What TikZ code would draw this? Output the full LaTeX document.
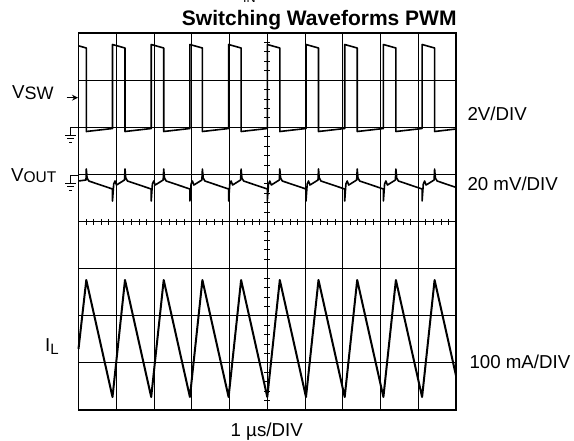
\documentclass[tikz,border=0pt]{standalone}
\usepackage{fontspec}
\setmainfont{Liberation Sans}
\usetikzlibrary{arrows.meta}

\newcommand{\lblfont}{\fontsize{18.7}{18.7}\selectfont}
\newcommand{\lowsub}[3]{\raisebox{-#1}{\fontsize{#2}{#2}\selectfont #3}}

\tikzset{
  txt/.style={inner sep=0pt, anchor=base west, font=\lblfont},
  wave/.style={line width=1.6pt, line join=round},
  gnd/.pic={
    \path[draw,line width=0.9pt] (8.5,0) -- (0,0) -- (0,8);
    \path[draw,line width=0.9pt] (-5.3,8) -- (5.3,8);
    \path[draw,line width=0.9pt] (-3.5,11.5) -- (3.5,11.5);
    \path[draw,line width=0.9pt] (-1.7,15) -- (1.7,15);
  }
}

\begin{document}
\begin{tikzpicture}[x=1pt,y=-1pt]
    \useasboundingbox (0,0) rectangle (574,440);

    % screen grid
    \foreach \i in {1,...,9}
        \path[draw,line width=0.9pt] ({78.5+37.75*\i},33) -- ({78.5+37.75*\i},410);
    \foreach \j in {1,...,7}
        \path[draw,line width=0.9pt] (78.5,{33+47.125*\j}) -- (456,{33+47.125*\j});
    \foreach \k in {1,...,49}
        \path[draw,line width=0.8pt] ({78.5+7.55*\k},218.8) -- ({78.5+7.55*\k},224.5);
    \foreach \k in {1,...,39}
        \path[draw,line width=0.8pt] (264.3,{33+9.425*\k}) -- (270.3,{33+9.425*\k});
    \path[draw,line width=1.6pt] (78.5,33) rectangle (456,410);

    % texts
    \node[txt,font=\fontsize{12.5}{12.5}\selectfont] (vin) at (243,2.7) {IN};
    \node[txt,anchor=base east,font=\bfseries\fontsize{21}{21}\selectfont] (title) at (456.7,25) {Switching Waveforms PWM};
    \node[txt] (vsw) at (12,98.3) {V\lowsub{1pt}{18}{SW}};
    \node[txt] (vout) at (11,181.7) {V\lowsub{1pt}{15.5}{OUT}};
    \node[txt] (il) at (45,351.7) {I\lowsub{2.6pt}{15}{L}};
    \node[txt] (vswdiv) at (467.3,120) {2V/DIV};
    \node[txt] (voutdiv) at (467.3,190) {20 mV/DIV};
    \node[txt] (ildiv) at (469.3,368.3) {100 mA/DIV};
    \node[txt,anchor=base] (tdiv) at (266.7,436.7) {1 µs/DIV};

    % markers
    \coordinate (swtail) at (66.7,97.7);
    \coordinate (swhead) at (78,97.7);
    \path[draw,line width=1pt,-{Stealth[length=6pt,width=6pt]}] (swtail) -- (swhead);
    \pic at (70.7,127.2) {gnd};
    \pic at (70.7,175) {gnd};

    % switch node
    \path[draw,wave] (78.5,45.8) -- (86.3,48) -- (86.3,131.5)
        \foreach \k in {1,...,9}{ -- ({73.8+38.7*\k},128.5) -- ({73.8+38.7*\k},44.5)
        -- ({86.3+38.7*\k},48) -- ({86.3+38.7*\k},131.5) } -- (456,129);

    % output ripple
    \path[draw,wave] (78.5,181) -- (86,180) -- (86.3,169) -- (87.1,178) -- (88.8,181)
        \foreach \k in {1,...,9}{ -- ({73.8+38.7*\k},189) -- ({73.8+38.7*\k},201)
        -- ({75+38.7*\k},184) -- ({76.3+38.7*\k},181) -- ({77.8+38.7*\k},185)
        -- ({85.8+38.7*\k},180) -- ({86.3+38.7*\k},169) -- ({87.1+38.7*\k},178)
        -- ({88.8+38.7*\k},181) } -- (456,187.4);

    % inductor current
    \path[draw,wave,line width=2pt] (78.5,349)
        \foreach \k in {0,...,8}{ -- ({86.3+38.7*\k},280) -- ({112.5+38.7*\k},397) }
        -- (434.6,280) -- (456,375.6);
\end{tikzpicture}
\end{document}
